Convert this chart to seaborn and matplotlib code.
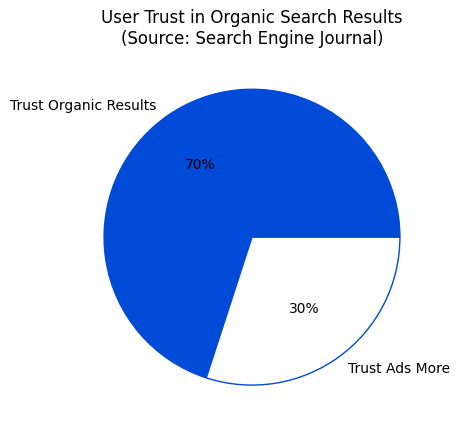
import matplotlib
matplotlib.use('Agg')
import matplotlib.pyplot as plt
import seaborn as sns

labels = ["Trust Organic Results", "Trust Ads More"]
shares = [70, 30]
colors = ["#004ad8", "#ffffff"]

sns.set_style("white")
plt.rcParams['font.family'] = ['DejaVu Sans']
plt.rcParams['text.color'] = 'black'

fig = plt.figure(figsize=(4.59, 4.32), dpi=100)
ax = fig.add_axes([0.146, 0.023, 0.806, 0.856])
wedges, texts, autotexts = ax.pie(shares, labels=labels, colors=colors, autopct="%1.0f%%",
                                  wedgeprops={"edgecolor": "#004ad8", "linewidth": 1})
ax.set_title("User Trust in Organic Search Results\n(Source: Search Engine Journal)", color="black")
ax.set_aspect("equal")
plt.savefig("out.png")
